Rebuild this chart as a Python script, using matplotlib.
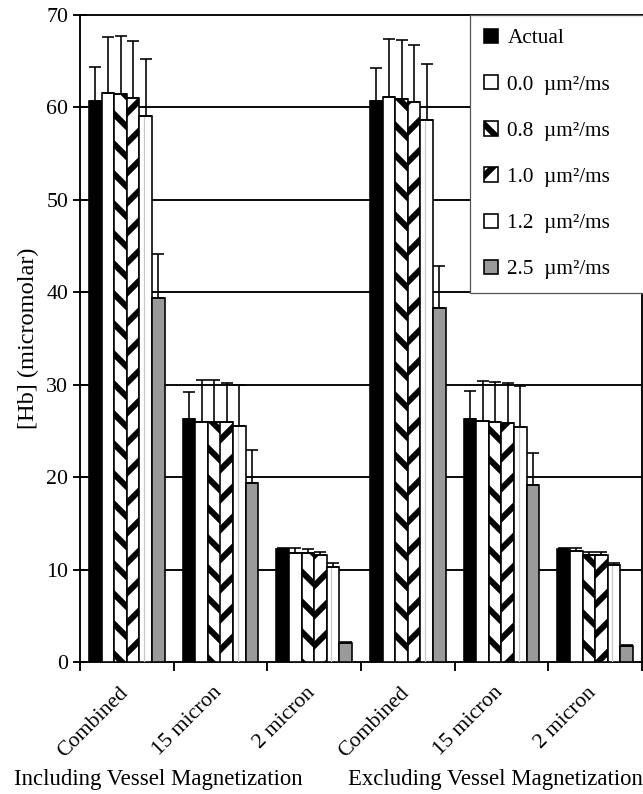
import numpy as np
import matplotlib.pyplot as plt

plt.rcParams['font.family'] = ['Liberation Serif', 'DejaVu Serif']
plt.rcParams['hatch.linewidth'] = 4.8

categories = ["Combined", "15 micron", "2 micron", "Combined", "15 micron", "2 micron"]
groups = ["Including Vessel Magnetization", "Excluding Vessel Magnetization"]
series = ["Actual", "0.0  \u00b5m\u00b2/ms", "0.8  \u00b5m\u00b2/ms",
          "1.0  \u00b5m\u00b2/ms", "1.2  \u00b5m\u00b2/ms", "2.5  \u00b5m\u00b2/ms"]

# mean [Hb] per series, one value per category
actual = [60.7, 26.3, 12.2, 60.7, 26.3, 12.2]
d00 = [61.6, 26.0, 11.8, 61.1, 26.1, 12.0]
d08 = [61.5, 26.0, 11.8, 60.9, 26.0, 11.6]
d10 = [61.0, 26.0, 11.6, 60.6, 25.9, 11.6]
d12 = [59.1, 25.5, 10.3, 58.6, 25.4, 10.5]
d25 = [39.4, 19.4, 2.1, 38.3, 19.1, 1.7]

# standard deviations (only the upper half is drawn)
actual_sd = [3.7, 2.9, 0.1, 3.6, 3.0, 0.1]
d00_sd = [6.0, 4.5, 0.5, 6.3, 4.3, 0.3]
d08_sd = [6.2, 4.5, 0.4, 6.4, 4.3, 0.3]
d10_sd = [6.2, 4.2, 0.3, 6.2, 4.3, 0.3]
d12_sd = [6.1, 4.5, 0.4, 6.1, 4.5, 0.2]
d25_sd = [4.7, 3.5, 0.1, 4.5, 3.5, 0.1]

values = [actual, d00, d08, d10, d12, d25]
errors = [actual_sd, d00_sd, d08_sd, d10_sd, d12_sd, d25_sd]
faces = ['black', 'white', 'white', 'white', 'white', '#9a9a9a']
hatches = [None, None, '\\', '/', None, None]

fig = plt.figure(figsize=(643 / 90, 794 / 90), dpi=90)
ax = fig.add_axes([80 / 643, 132 / 794, 562 / 643, 647 / 794])

x = np.arange(len(categories))
w = 0.135
for i in range(len(series)):
    pos = x + (i - 2.5) * w
    ax.bar(pos, values[i], w, color=faces[i], edgecolor='black', linewidth=1.3,
           hatch=hatches[i], label=series[i], zorder=3)
    if i == 4:
        # faint inner line on the 1.2 bars
        ax.vlines(pos - w * 0.15, 0, values[i], color='#c8c8c8', linewidth=1.0, zorder=3.1)
    err = np.array(errors[i])
    ax.errorbar(pos, values[i], yerr=[np.zeros_like(err), err], fmt='none',
                ecolor='black', elinewidth=1.3, capsize=4.8, capthick=1.3, zorder=4)

ax.set_xlim(-0.5, 5.5)
ax.set_ylim(0, 70)
ax.set_yticks(np.arange(0, 71, 10))
for y in range(10, 70, 10):
    ax.axhline(y, color='black', linewidth=1.5, zorder=1)

# labels sit a little left of the group centres, ticks only at the boundaries
ax.set_xticks(x - 0.09)
ax.set_xticklabels(categories, rotation=45, ha='right', rotation_mode='anchor', fontsize=17.5)
ax.set_xticks(np.arange(-0.5, 6, 1), minor=True)
ax.tick_params(axis='x', which='major', length=0, pad=17)
ax.tick_params(axis='x', which='minor', length=7, width=1.5, direction='out')
ax.tick_params(axis='y', length=11, width=1.5, direction='inout', labelsize=17.5, pad=4)

for side in ['left', 'bottom', 'top', 'right']:
    ax.spines[side].set_linewidth(1.5)

ax.set_ylabel('[Hb] (micromolar)', fontsize=19.5, labelpad=6)

leg = ax.legend(loc='upper left', bbox_to_anchor=(390 / 562, 0, 200 / 562, 1.0),
                mode='expand', borderaxespad=0, fontsize=17, frameon=True,
                fancybox=False, framealpha=1, edgecolor='#555555',
                handlelength=0.66, handleheight=0.66, handletextpad=0.45,
                labelspacing=1.25, borderpad=0.65)
leg.get_frame().set_linewidth(1.0)
leg.set_zorder(5)

fig.text(14 / 643, 1 - 785 / 794, groups[0], fontsize=18.2, ha='left', va='baseline')
fig.text(348 / 643, 1 - 785 / 794, groups[1], fontsize=18.2, ha='left', va='baseline')

fig.savefig('out.png', dpi=90)
